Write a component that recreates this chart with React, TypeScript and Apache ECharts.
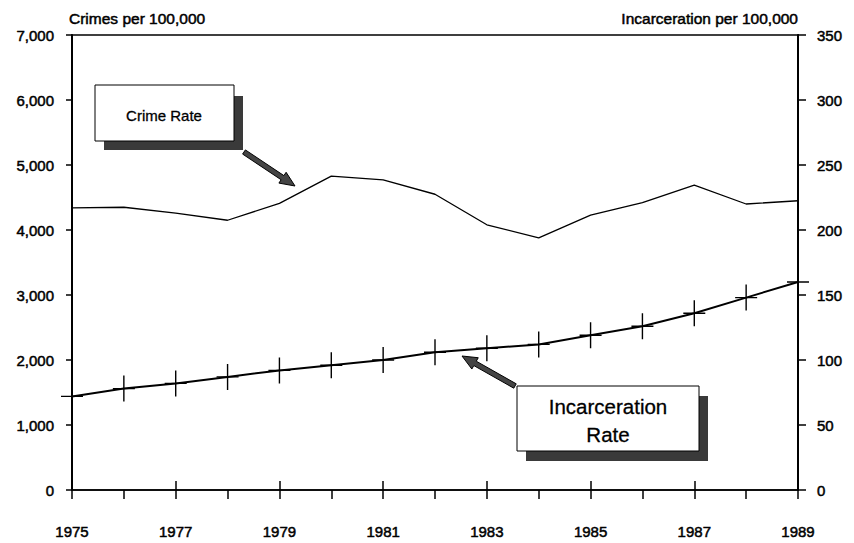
import React, { useEffect, useRef } from "react";
import * as echarts from "echarts";

const years = ["1975", "1976", "1977", "1978", "1979", "1980", "1981", "1982", "1983", "1984", "1985", "1986", "1987", "1988", "1989"];
const crimeRate = [4340, 4350, 4260, 4150, 4410, 4830, 4770, 4550, 4080, 3880, 4230, 4420, 4690, 4400, 4450];
const incarcerationRate = [72, 78, 82, 87, 92, 96, 100, 106, 109, 112, 119, 126, 136, 148, 160];
const leftTitle = "Crimes per 100,000";
const rightTitle = "Incarceration per 100,000";
const crimeLabel = "Crime Rate";
const incLabel = "Incarceration\nRate";

const FONT = "'Liberation Sans', Arial, Helvetica, sans-serif";

function arrow(x1: number, y1: number, x2: number, y2: number, sw = 5, hl = 15, hw = 13) {
  const dx = x2 - x1, dy = y2 - y1;
  const L = Math.hypot(dx, dy);
  const ux = dx / L, uy = dy / L;
  const nx = -uy, ny = ux;
  const bx = x2 - ux * hl, by = y2 - uy * hl;
  return [
    [x1 + nx * sw / 2, y1 + ny * sw / 2],
    [bx + nx * sw / 2, by + ny * sw / 2],
    [bx + nx * hw / 2, by + ny * hw / 2],
    [x2, y2],
    [bx - nx * hw / 2, by - ny * hw / 2],
    [bx - nx * sw / 2, by - ny * sw / 2],
    [x1 - nx * sw / 2, y1 - ny * sw / 2],
  ];
}

export default function App() {
  const ref = useRef<HTMLDivElement>(null);
  useEffect(() => {
    if (!ref.current) return;
    const chart = echarts.init(ref.current, null, { renderer: "svg" });
    const txt = { color: "#000", fontFamily: FONT, fontSize: 15, textBorderColor: "#000", textBorderWidth: 0.5 };
    chart.setOption({
      animation: false,
      backgroundColor: "#fff",
      grid: { left: 72, right: 56, top: 35, bottom: 53, show: true, borderColor: "#000", borderWidth: 1.5, backgroundColor: "transparent" },
      xAxis: [
        {
          type: "category",
          data: years,
          boundaryGap: false,
          axisLine: { lineStyle: { color: "#000", width: 1.5 } },
          axisTick: { show: true, alignWithLabel: true, length: 9, lineStyle: { color: "#000", width: 1.5 }, interval: 0 },
          axisLabel: { ...txt, interval: 1, margin: 34 },
        },
        {
          type: "category",
          data: years,
          boundaryGap: false,
          position: "bottom",
          axisLine: { show: false },
          axisTick: { show: true, inside: true, length: 9, lineStyle: { color: "#000", width: 1.5 }, interval: (i: number) => i % 2 === 0 },
          axisLabel: { show: false },
        },
      ],
      yAxis: [
        {
          type: "value",
          min: 0,
          max: 7000,
          interval: 1000,
          position: "left",
          splitLine: { show: false },
          axisLine: { show: true, lineStyle: { color: "#000", width: 2 } },
          axisTick: { show: true, length: 6, lineStyle: { color: "#000", width: 1.5 } },
          axisLabel: { ...txt, margin: 18, formatter: (v: number) => v.toLocaleString("en-US") },
          name: leftTitle,
          nameLocation: "end",
          nameGap: 17,
          nameTextStyle: { ...txt, fontSize: 15.5, align: "left", verticalAlign: "middle", padding: [0, 0, 0, -3] },
        },
        {
          type: "value",
          min: 0,
          max: 350,
          interval: 50,
          position: "right",
          splitLine: { show: false },
          axisLine: { show: true, lineStyle: { color: "#000", width: 2 } },
          axisTick: { show: true, length: 8, lineStyle: { color: "#000", width: 1.5 } },
          axisLabel: { ...txt, margin: 19 },
          name: rightTitle,
          nameLocation: "end",
          nameGap: 17,
          nameTextStyle: { ...txt, fontSize: 15.5, align: "right", verticalAlign: "middle" },
        },
      ],
      series: [
        {
          type: "line",
          name: crimeLabel,
          data: crimeRate,
          xAxisIndex: 0,
          yAxisIndex: 0,
          showSymbol: false,
          symbol: "none",
          lineStyle: { color: "#000", width: 1.3 },
          z: 3,
        },
        {
          type: "line",
          name: "Incarceration Rate",
          data: incarcerationRate,
          xAxisIndex: 0,
          yAxisIndex: 1,
          symbol: "path://M10.3,0h1.4v26h-1.4z M0,12.3h22v1.4h-22z",
          symbolSize: [22, 26],
          itemStyle: { color: "#000" },
          lineStyle: { color: "#000", width: 2 },
          z: 4,
        },
      ],
      graphic: [
        { type: "rect", shape: { x: 104, y: 96, width: 139, height: 54 }, style: { fill: "#3a3a3a" }, z: 10 },
        { type: "rect", shape: { x: 95, y: 85, width: 139, height: 56 }, style: { fill: "#fff", stroke: "#000", lineWidth: 1 }, z: 11 },
        { type: "text", x: 164, y: 115, style: { text: crimeLabel, fontFamily: FONT, fontSize: 15, fill: "#000", stroke: "#000", lineWidth: 0.3, align: "center", verticalAlign: "middle" }, z: 12 },
        { type: "polygon", shape: { points: arrow(244, 152, 295, 186) }, style: { fill: "#444", stroke: "#000", lineWidth: 1 }, z: 12 },

        { type: "rect", shape: { x: 526, y: 396, width: 182, height: 65 }, style: { fill: "#3a3a3a" }, z: 10 },
        { type: "rect", shape: { x: 517, y: 386, width: 182, height: 65 }, style: { fill: "#fff", stroke: "#000", lineWidth: 1 }, z: 11 },
        { type: "text", x: 608, y: 420, style: { text: incLabel, fontFamily: FONT, fontSize: 20.5, lineHeight: 28, fill: "#000", stroke: "#000", lineWidth: 0.3, align: "center", verticalAlign: "middle" }, z: 12 },
        { type: "polygon", shape: { points: arrow(515, 386, 462, 356) }, style: { fill: "#444", stroke: "#000", lineWidth: 1 }, z: 12 },
      ],
    });
    return () => chart.dispose();
  }, []);
  return <div ref={ref} style={{ position: "fixed", left: 0, top: 0, width: 854, height: 543, background: "#fff" }} />;
}
